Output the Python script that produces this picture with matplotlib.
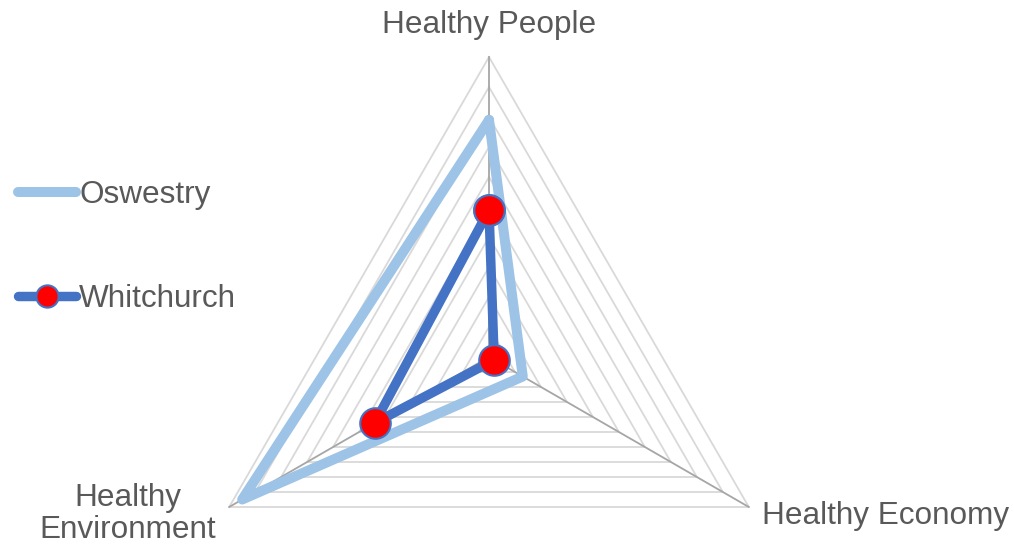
import numpy as np
import matplotlib
matplotlib.use("Agg")
import matplotlib.pyplot as plt
from matplotlib.lines import Line2D

categories = ["Healthy People", "Healthy Economy", "Healthy\nEnvironment"]
oswestry = [7.9, 1.3, 9.5]
whitchurch = [4.9, 0.2, 4.4]
levels = [1, 2, 3, 4, 5, 6, 7, 8, 9, 10]
rmax = 10

plt.rcParams['font.family'] = ['Liberation Sans', 'DejaVu Sans']
TXT = '#595959'

W, H = 1014, 548
fig = plt.figure(figsize=(W / 100, H / 100), dpi=100)
cx, cy, R = 489, H - 357, 300
ax = fig.add_axes([(cx - R) / W, (cy - R) / H, 2 * R / W, 2 * R / H], projection='polar')
ax.set_theta_offset(np.pi / 2)
ax.set_theta_direction(-1)
ax.set_ylim(0, rmax)
ax.set_axis_off()

n = len(categories)
ang = np.linspace(0, 2 * np.pi, n, endpoint=False)
ang_c = np.append(ang, ang[0])

for lv in levels:
    ax.plot(ang_c, [lv] * (n + 1), color='#D9D9D9', lw=1.3, clip_on=False, zorder=1)
for a in ang:
    ax.plot([a, a], [0, rmax], color='#A6A6A6', lw=1.3, clip_on=False, zorder=2)

ax.plot(ang_c, oswestry + oswestry[:1], color='#9DC3E6', lw=7.2,
        solid_joinstyle='round', solid_capstyle='round', clip_on=False, zorder=3)
ax.plot(ang_c, whitchurch + whitchurch[:1], color='#4472C4', lw=6.8,
        solid_joinstyle='round', solid_capstyle='round', marker='o', markersize=22,
        markerfacecolor='#FF0000', markeredgecolor='#4472C4', markeredgewidth=1.5,
        clip_on=False, zorder=4)

fs = 22.7
fig.text(489 / W, 1 - 25 / H, categories[0], ha='center', va='center', fontsize=fs, color=TXT)
fig.text(762 / W, 1 - 516 / H, categories[1], ha='left', va='center', fontsize=fs, color=TXT)
fig.text(128 / W, 1 - 514 / H, categories[2], ha='center', va='center', fontsize=fs,
         color=TXT, linespacing=1.1)

handles = [
    Line2D([], [], color='#9DC3E6', lw=7.2, solid_capstyle='round'),
    Line2D([], [], color='#4472C4', lw=6.8, solid_capstyle='round', marker='o', markersize=16,
           markerfacecolor='#FF0000', markeredgecolor='#4472C4', markeredgewidth=1.5),
]
leg = fig.legend(handles, ["Oswestry", "Whitchurch"], loc='center left',
                 bbox_to_anchor=(5 / W, 1 - 247 / H), frameon=False, fontsize=fs,
                 handlelength=1.85, handletextpad=0.1, labelspacing=2.32, borderaxespad=0)
for t in leg.get_texts():
    t.set_color(TXT)

fig.savefig('out.png', dpi=100)
